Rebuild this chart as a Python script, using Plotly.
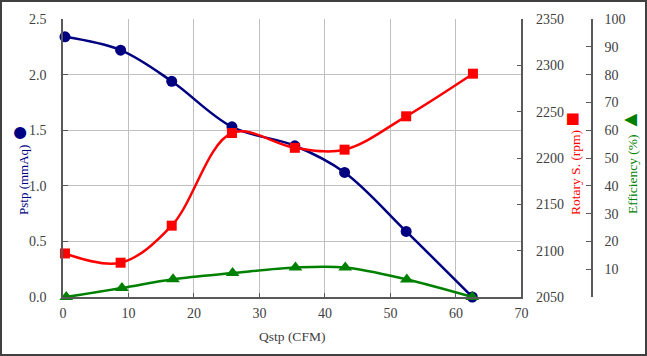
import plotly.graph_objects as go

# Data
qstp = [0.3, 8.8, 16.6, 25.8, 35.4, 43.0, 52.4, 62.5]
pstp = [2.34, 2.22, 1.94, 1.53, 1.36, 1.12, 0.59, 0.0]
rpm_x = [0.3, 8.8, 16.6, 25.8, 35.4, 43.0, 52.4, 62.6]
rpm = [2097, 2087, 2127, 2227, 2211, 2209, 2245, 2291]
eff_x = [0.5, 9.0, 16.8, 25.9, 35.5, 43.1, 52.5, 62.5]
eff = [0.0, 3.2, 6.4, 8.6, 10.6, 10.6, 6.3, 0.0]

x_ticks = [0, 10, 20, 30, 40, 50, 60, 70]

FONT = "Liberation Serif"
TICKC = "#404040"
AXC = "#595959"
GRIDC = "#c0c0c0"

fig = go.Figure()
fig.add_trace(go.Scatter(
    x=qstp, y=pstp, mode="lines+markers", name="Pstp",
    line=dict(color="#000080", width=2.5, shape="spline", smoothing=1.0),
    marker=dict(symbol="circle", size=11, color="#000080"),
    yaxis="y", cliponaxis=False))
fig.add_trace(go.Scatter(
    x=rpm_x, y=rpm, mode="lines+markers", name="Rotary S.",
    line=dict(color="#ff0000", width=2.5, shape="spline", smoothing=1.0),
    marker=dict(symbol="square", size=10, color="#ff0000"),
    yaxis="y2", cliponaxis=False))
fig.add_trace(go.Scatter(
    x=eff_x, y=eff, mode="lines+markers", name="Efficiency",
    line=dict(color="#008000", width=2.5, shape="spline", smoothing=1.0),
    marker=dict(symbol="triangle-up", size=12, color="#008000"),
    yaxis="y3", cliponaxis=False))

W, H = 647, 356
ML, MR, MT, MB = 63, 55, 19, 59
PW = W - ML - MR
PH = H - MT - MB


def px_x(p):
    return (p - ML) / PW


def px_y(p):
    return (H - MB - p) / PH


fig.update_layout(
    width=W, height=H,
    margin=dict(l=ML, r=MR, t=MT, b=MB, pad=0, autoexpand=False),
    paper_bgcolor="white", plot_bgcolor="white",
    showlegend=False,
    font=dict(family=FONT, size=14, color=TICKC),
    xaxis=dict(
        domain=[0, 458.4 / PW], range=[0, 70], tickvals=x_ticks,
        showgrid=True, gridcolor=GRIDC, gridwidth=1,
        showline=True, linecolor=AXC, linewidth=1.5,
        ticks="inside", ticklen=4, tickcolor=AXC,
        zeroline=False, anchor="y", automargin=False,
        ticklabelstandoff=2,
        title=dict(text="Qstp (CFM)", font=dict(size=13.5, color=TICKC), standoff=12),
    ),
    yaxis=dict(
        range=[0, 2.5], dtick=0.5, tickformat=".1f",
        showgrid=True, gridcolor=GRIDC, gridwidth=1,
        showline=True, linecolor=AXC, linewidth=1.5,
        ticks="inside", ticklen=5, tickcolor=AXC,
        zeroline=False, ticklabelstandoff=12, automargin=False,
    ),
    yaxis2=dict(
        range=[2050, 2350], dtick=50, overlaying="y", side="right", anchor="x",
        showgrid=False, showline=True, linecolor=AXC, linewidth=1.5,
        ticks="inside", ticklen=5, tickcolor=AXC, zeroline=False,
        ticklabelstandoff=10, automargin=False,
    ),
    yaxis3=dict(
        range=[0, 100], tickvals=[10, 20, 30, 40, 50, 60, 70, 80, 90, 100],
        overlaying="y", side="right", anchor="free", position=1.0,
        showgrid=False, showline=True, linecolor=AXC, linewidth=1.5,
        ticks="inside", ticklen=5, tickcolor=AXC, zeroline=False,
        ticklabelstandoff=9, automargin=False,
    ),
)

fig.add_annotation(
    x=px_x(18), y=px_y(170), xref="paper", yref="paper", textangle=-90,
    showarrow=False, xanchor="center", yanchor="middle",
    text='Pstp (mmAq) <span style="font-size:28px">●</span>',
    font=dict(family=FONT, size=13, color="#000080"))
fig.add_annotation(
    x=px_x(572), y=px_y(164), xref="paper", yref="paper", textangle=-90,
    showarrow=False, xanchor="center", yanchor="middle",
    text='Rotary S. (rpm) <span style="font-size:24px">■</span>',
    font=dict(family=FONT, size=13.5, color="#ff0000"))
fig.add_annotation(
    x=px_x(629), y=px_y(162), xref="paper", yref="paper", textangle=-90,
    showarrow=False, xanchor="center", yanchor="middle",
    text='Efficiency (%) <span style="font-size:22px">▲</span>',
    font=dict(family=FONT, size=13.5, color="#008000"))

fig.add_shape(
    type="rect", xref="paper", yref="paper",
    x0=px_x(1), x1=px_x(646), y0=px_y(355), y1=px_y(1),
    line=dict(color="#404040", width=2), fillcolor="rgba(0,0,0,0)", layer="above")

fig.write_html("out.html", config={"displayModeBar": False},
               post_script="document.body.style.margin='0px';")
